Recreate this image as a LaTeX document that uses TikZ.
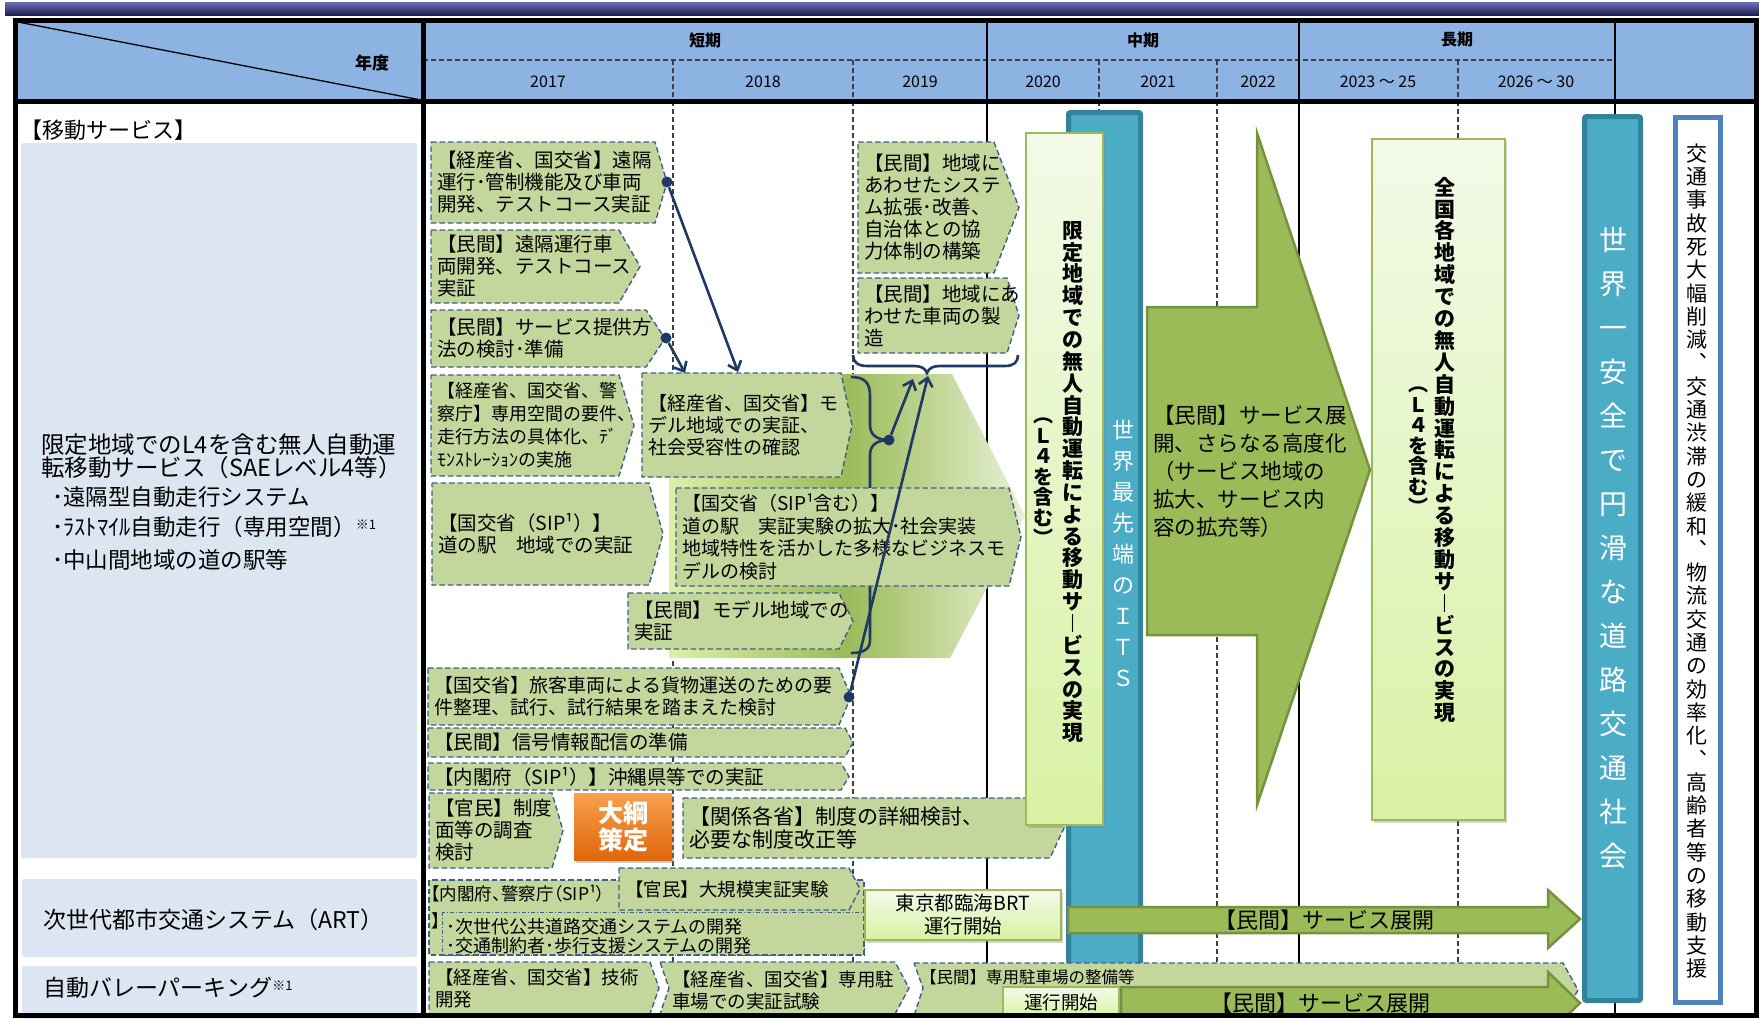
\documentclass[tikz,border=0pt]{standalone}
\usepackage{fontspec}
\setmainfont{Noto Sans CJK JP}
\newfontfamily\vfont{Noto Sans CJK JP}
\newfontfamily\pfont{Noto Sans CJK JP}[RawFeature=+palt]
\usetikzlibrary{arrows.meta,shadows}
\definecolor{hdr}{HTML}{8DB3E2}
\definecolor{panel}{HTML}{DCE6F2}
\definecolor{boxgreen}{HTML}{C3D69B}
\definecolor{dashblue}{HTML}{40608A}
\definecolor{olive}{HTML}{9BBB59}
\definecolor{olivedark}{HTML}{76923C}
\definecolor{tealc}{HTML}{4BACC6}
\definecolor{tealdark}{HTML}{31849B}
\definecolor{lgtop}{HTML}{F3FAE8}
\definecolor{lgbot}{HTML}{D8F2A4}
\definecolor{navy}{HTML}{1F3864}
\definecolor{orangeA}{HTML}{F9A04E}
\definecolor{orangeB}{HTML}{E0660A}
\definecolor{vbblue}{HTML}{4F81BD}
\definecolor{bandtop}{HTML}{7070B8}
\definecolor{bandbot}{HTML}{1E1E58}
\definecolor{gradlight}{HTML}{DAF0A8}
\definecolor{gradright}{HTML}{E8F1D6}
\ExplSyntaxOn
\NewDocumentCommand\vstack{m}{\vbox{\tl_map_inline:nn{#1}{\hbox_to_wd:nn{1em}{\hss##1\hss}}}}
\ExplSyntaxOff
\newcommand\fs[2]{\fontsize{#1}{#2}\selectfont}
% chevron box: [node opts]{name}{x1}{y1}{x2}{y2}{tip}{text}
\newcommand\chev[8][]{%
  \draw[gbox] (#3,#4) -- (#5,#4) -- (#7,{(#4+#6)/2}) -- (#5,#6) -- (#3,#6) -- cycle;
  \node[btxt,#1] (#2) at ({#3+6},{(#4+#6)/2}) {#8};}
\begin{document}
\begin{tikzpicture}[x=1pt,y=-1pt,
  gbox/.style={fill=boxgreen,draw=dashblue,line width=1.4pt,dash pattern=on 5.5pt off 3pt},
  btxt/.style={anchor=west,align=left,inner sep=0pt,font=\fs{19.5}{22}},
  gdash/.style={draw=black!75,line width=1.1pt,dash pattern=on 5pt off 3pt},
  gsolid/.style={draw=black,line width=1.8pt},
  hsolid/.style={draw=black,line width=2.5pt},
  frame/.style={draw=black,line width=5pt},
  lgbox/.style={top color=lgtop,bottom color=lgbot,draw=olive,line width=1.3pt,
     drop shadow={shadow xshift=2pt,shadow yshift=-2.5pt,opacity=.35}},
  tealbox/.style={fill=tealc,draw=tealdark,line width=5pt,rounded corners=2pt},
  olivearrow/.style={fill=olive,draw=olivedark,line width=2.5pt},
  conn/.style={draw=navy,line width=2.6pt},
  connarr/.style={conn,-{Straight Barb[length=8pt,width=14pt]}},
  dot/.style={circle,fill=navy,inner sep=0pt,minimum size=11pt},
  lefttxt/.style={anchor=west,inner sep=0pt,font=\fs{22.5}{24}},
  hdrtxt/.style={inner sep=0pt,font=\fs{16}{18}},
  vtxt/.style={inner sep=0pt,font=\vfont\fs{21}{21.9}},
]
\useasboundingbox (0,0) rectangle (1759,1018);
\fill[white] (0,0) rectangle (1759,1018);
% top band
\shade[top color=bandtop,bottom color=bandbot] (5,2) rectangle (1759,15);
% header and panels
\fill[hdr] (15,20) rectangle (1756,101);
\fill[panel,rounded corners=2pt] (21,143) rectangle (417,858);
\fill[panel,rounded corners=2pt] (22,879) rectangle (417,957);
\fill[panel,rounded corners=2pt] (22,966) rectangle (417,1020);
% header lines
\draw[line width=1.3pt] (18,22) -- (421,100);
\draw[gdash] (423,60) -- (1615,60);
\foreach \x in {673,853,1099,1217,1458} \draw[gdash] (\x,60) -- (\x,101);
\foreach \x in {987,1299,1615} \draw[hsolid] (\x,20) -- (\x,101);
% header texts
\node[hdrtxt,font=\bfseries\fs{17}{18}] (nendo) at (372,63) {年度};
\node[hdrtxt,font=\bfseries\fs{16}{18}] (tanki) at (705,40) {短期};
\node[hdrtxt,font=\bfseries\fs{16}{18}] (chuki) at (1143,40) {中期};
\node[hdrtxt,font=\bfseries\fs{16}{18}] (choki) at (1457,40) {長期};
\node[hdrtxt] (y17) at (548,82) {2017};
\node[hdrtxt] (y18) at (763,82) {2018};
\node[hdrtxt] (y19) at (920,82) {2019};
\node[hdrtxt] (y20) at (1043,82) {2020};
\node[hdrtxt] (y21) at (1158,82) {2021};
\node[hdrtxt] (y22) at (1258,82) {2022};
\node[hdrtxt] (y23) at (1378,82) {2023 ～ 25};
\node[hdrtxt] (y26) at (1536,82) {2026 ～ 30};
% left texts
\node[lefttxt,font=\fs{22}{24}] (ls) at (20,130) {【移動サービス】};
\node[lefttxt,font=\fs{23.5}{24}] (lm1) at (41,445) {限定地域でのL4を含む無人自動運};
\node[lefttxt,font=\fs{23.5}{24}] (lm2) at (41,468) {転移動サービス（SAEレベル4等）};
\node[lefttxt] (lm3) at (52,497) {･遠隔型自動走行システム};
\node[lefttxt] (lm4) at (52,527) {･ﾗｽﾄﾏｲﾙ自動走行（専用空間）{\fs{13}{13}\raisebox{6pt}{※1}}};
\node[lefttxt] (lm5) at (52,560) {･中山間地域の道の駅等};
\node[lefttxt,font=\fs{23}{24}] (lart) at (43,920) {次世代都市交通システム（ART）};
\node[lefttxt,font=\fs{23}{24}] (lpark) at (43,988) {自動バレーパーキング{\fs{13}{13}\raisebox{6pt}{※1}}};
\begin{scope}
\clip (15,101) rectangle (1756,1015);
% grid
\foreach \x in {673,853,1099,1217,1458} \draw[gdash] (\x,101) -- (\x,1015);
\foreach \x in {987,1299,1615} \draw[gsolid] (\x,101) -- (\x,1015);
% big gradient arrow
\shade[left color=gradlight,right color=gradright,middle color=olive]
  (669,374) -- (952,374) -- (1025,516) -- (950,658) -- (669,658) -- cycle;
% right brace
\draw[conn] (851,377) .. controls (866,377) and (870,384) .. (870,396) -- (870,425)
  .. controls (870,435) and (877,440) .. (889,440)
  .. controls (877,440) and (870,445) .. (870,455) -- (870,640)
  .. controls (870,649) and (864,653) .. (851,653);
% chevron boxes
\chev{tA}{431}{142}{655}{223}{667}{【経産省、国交省】遠隔\\運行･管制機能及び車両\\開発、テストコース実証}
\chev{tB}{431}{230}{619}{303}{640}{【民間】遠隔運行車\\両開発、テストコース\\実証}
\chev{tC}{431}{310}{646}{367}{665}{【民間】サービス提供方\\法の検討･準備}
\chev[font=\fs{18}{23}]{tD}{431}{375}{619}{476}{634}{【経産省、国交省、警\\察庁】専用空間の要件、\\走行方法の具体化、ﾃﾞ\\ﾓﾝｽﾄﾚｰｼｮﾝの実施}
\chev[font=\fs{19}{22}]{tE}{642}{373}{841}{477}{852}{【経産省、国交省】モ\\デル地域での実証、\\社会受容性の確認}
\chev[font=\fs{19}{22.5}]{tF}{676}{488}{1009}{586}{1021}{【国交省（SIP¹含む）】\\道の駅　実証実験の拡大･社会実装\\地域特性を活かした多様なビジネスモ\\デルの検討}
\chev{tG}{432}{483}{649}{585}{663}{【国交省（SIP¹）】\\道の駅　地域での実証}
\chev{tH}{628}{593}{839}{649}{853}{【民間】モデル地域での\\実証}
\chev[font=\fs{19}{22}]{tI}{428}{668}{839}{725}{851}{【国交省】旅客車両による貨物運送のための要\\件整理、試行、試行結果を踏まえた検討}
\chev{tJ}{428}{728}{845}{757}{853}{【民間】信号情報配信の準備}
\chev{tK}{428}{763}{841}{790}{849}{【内閣府（SIP¹）】沖縄県等での実証}
\chev{tL}{429}{793}{552}{868}{563}{【官民】制度\\面等の調査\\検討}
\chev[font=\fs{21}{23}]{tM}{683}{798}{1050}{858}{1064}{【関係各省】制度の詳細検討、\\必要な制度改正等}
\chev{tW}{858}{142}{994}{273}{1019}{【民間】地域に\\あわせたシステ\\ム拡張･改善、\\自治体との協\\力体制の構築}
\chev{tX}{858}{278}{1007}{353}{1019}{【民間】地域にあ\\わせた車両の製\\造}
% ART
\draw[gbox] (429,880) rectangle (864,955);
\chev[font=\fs{18.5}{22}]{tO}{619}{868}{849}{910}{860}{【官民】大規模実証実験}
\draw[draw=dashblue,line width=1pt,dash pattern=on 4pt off 2pt on 1pt off 2pt] (442,912) rectangle (864,955);
\node[btxt,font=\pfont\fs{17.5}{20}] (tN1) at (431,894) {【内閣府、警察庁（SIP¹）};
\node[btxt,font=\fs{17.5}{20}] (tN2) at (431,921) {】};
\node[btxt,font=\fs{18}{19}] (tN3) at (446,927) {･次世代公共道路交通システムの開発};
\node[btxt,font=\fs{18}{19}] (tN4) at (446,946) {･交通制約者･歩行支援システムの開発};
\node[lgbox,minimum width=196pt,minimum height=50pt,align=center,inner sep=0pt,font=\fs{19.5}{23}] (brt) at (963,915) {東京都臨海BRT\\運行開始};
% orange
\node[top color=orangeA,bottom color=orangeB,minimum width=98pt,minimum height=67pt,inner sep=0pt,
  drop shadow={shadow xshift=2pt,shadow yshift=-3pt,opacity=.4},text=white,align=center,
  font=\bfseries\fs{25}{27}] (taiko) at (623,826.5) {大綱\\策定};
% parking
\chev[font=\fs{18.5}{22}]{tR}{429}{962}{650}{1014}{659}{【経産省、国交省】技術\\開発}
\draw[gbox] (660,962) -- (895,962) -- (909,988) -- (895,1014) -- (660,1014) -- (669,988) -- cycle;
\node[btxt,font=\fs{18.5}{22}] (tS) at (672,990) {【経産省、国交省】専用駐\\車場での実証試験};
% connectors
\node[dot] (dA) at (667,182) {};
\node[dot] (dC) at (666,338) {};
\node[dot] (dBr) at (889,440) {};
\node[dot] (dI) at (849,697) {};
\coordinate (eIn1) at (738,372);
\coordinate (eIn2) at (685,373);
\coordinate (brIn1) at (913,379);
\coordinate (brIn2) at (928,376);
\draw[connarr] (dA) -- (eIn1);
\draw[connarr] (dC) -- (eIn2);
\draw[connarr] (dBr) -- (brIn1);
\draw[connarr] (dI) -- (brIn2);
% top brace
\draw[conn] (853,355) .. controls (853,362) and (858,366) .. (867,366) -- (914,366)
  .. controls (921,366) and (925,368) .. (927,373)
  .. controls (929,368) and (933,366) .. (940,366) -- (1005,366)
  .. controls (1014,366) and (1018,362) .. (1018,355);
% vertical boxes
\draw[tealbox] (1068.5,112.5) rectangle (1140.5,1030);
\path[lgbox] (1026,133) rectangle (1103,825);
\node[vtxt,text=white,font=\vfont\fs{22}{31}] (its) at (1123,553) {\vstack{世界最先端のＩＴＳ}};
\node[vtxt,font=\vfont\bfseries\fs{21}{21.85}] (vb1a) at (1073,482) {\vstack{限定地域での無人自動運転による移動サ︱ビスの実現}};
\node[vtxt,font=\vfont\bfseries\fs{20}{20.5}] (vb1b) at (1043,482) {\vstack{︵Ｌ４を含む︶}};
\draw[olivearrow] (1147,307) -- (1257,307) -- (1257,133) -- (1370,470) -- (1257,805) -- (1257,635) -- (1147,635) -- cycle;
\node[btxt,font=\fs{21.5}{28}] (vb3) at (1153,471) {【民間】サービス展\\開、さらなる高度化\\（サービス地域の\\拡大、サービス内\\容の拡充等）};
\path[lgbox] (1372,139) rectangle (1505,820);
\node[vtxt,font=\vfont\bfseries\fs{21}{21.9}] (vb4a) at (1445,450) {\vstack{全国各地域での無人自動運転による移動サ︱ビスの実現}};
\node[vtxt,font=\vfont\bfseries\fs{20}{20.5}] (vb4b) at (1418,451) {\vstack{︵Ｌ４を含む︶}};
\draw[tealbox] (1584.5,116.5) rectangle (1640.5,1000.5);
\node[vtxt,text=white,font=\vfont\fs{28}{44}] (vb5) at (1613,548) {\vstack{世界一安全で円滑な道路交通社会}};
\draw[fill=white,draw=vbblue,line width=5pt] (1675.5,117.5) rectangle (1720.5,1002.5);
\node[vtxt,font=\vfont\fs{21}{23.3}] (vb6) at (1697,561) {\vstack{交通事故死大幅削減︑交通渋滞の緩和︑物流交通の効率化︑高齢者等の移動支援}};
% service arrows
\draw[olivearrow] (1068,907) -- (1548,907) -- (1548,890) -- (1580,919) -- (1548,948) -- (1548,933) -- (1068,933) -- cycle;
\node[inner sep=0pt,font=\fs{22}{24}] (qtxt) at (1324,920) {【民間】サービス展開};
\draw[gbox] (914,963) -- (1563,963) -- (1578,990) -- (1563,1016) -- (914,1016) -- (923,988) -- cycle;
\node[btxt,font=\fs{16.5}{18}] (tT) at (920,977) {【民間】専用駐車場の整備等};
\draw[olivearrow] (1121,987) -- (1548,987) -- (1548,972) -- (1580,1003) -- (1548,1034) -- (1548,1019) -- (1121,1019) -- cycle;
\node[inner sep=0pt,font=\fs{22}{24}] (vtxt2) at (1320,1003) {【民間】サービス展開};
\node[lgbox,minimum width=116pt,minimum height=30pt,inner sep=0pt,font=\fs{18.5}{20}] (unko) at (1061,1002) {運行開始};
\end{scope}
% frame
\draw[frame] (15,20) rectangle (1756,1015);
\draw[frame] (15,101) -- (1756,101);
\draw[frame] (423,20) -- (423,1015);
\end{tikzpicture}
\end{document}
